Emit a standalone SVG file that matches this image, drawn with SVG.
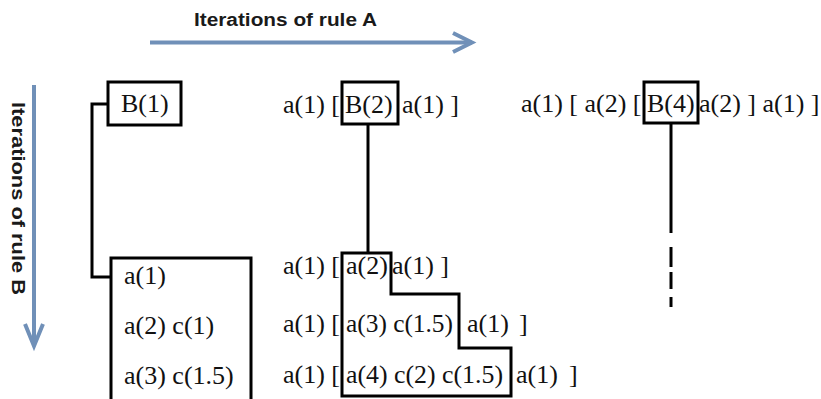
<svg xmlns="http://www.w3.org/2000/svg" width="821" height="399" viewBox="0 0 821 399">
<style>
.t{font-family:"Liberation Serif","Times New Roman",serif;font-size:26px;fill:#111}
.lbl{font-family:"Liberation Sans",Arial,sans-serif;font-size:18px;font-weight:bold;fill:#1a1a1a}
.box{fill:none;stroke:#000;stroke-width:3}
.ln{fill:none;stroke:#000;stroke-width:3}
.ar{fill:none;stroke:#7090b8;stroke-width:4}
</style>
<rect width="821" height="399" fill="#fff"/>
<g id="axis-a">
<line class="ar" x1="150" y1="42.5" x2="472" y2="42.5"/>
<polyline class="ar" points="453,33 472,42.5 453,52"/>
<text class="lbl" x="194" y="26" textLength="183" lengthAdjust="spacingAndGlyphs">Iterations of rule A</text>
</g>
<g id="axis-b">
<line class="ar" x1="34" y1="85" x2="34" y2="346"/>
<polyline class="ar" points="25,324 34,346 43,324"/>
<text class="lbl" transform="translate(12,102) rotate(90)" textLength="193" lengthAdjust="spacingAndGlyphs">Iterations of rule B</text>
</g>
<g id="connectors">
<polyline class="ln" points="108,104 92,104 92,277 111,277"/>
<line class="ln" x1="368" y1="124" x2="368" y2="253"/>
<line class="ln" x1="671" y1="123" x2="671" y2="233"/>
<line class="ln" x1="671" y1="247" x2="671" y2="267" stroke-width="2"/>
<line class="ln" x1="671" y1="272" x2="671" y2="289" stroke-width="2"/>
<line class="ln" x1="671" y1="297" x2="671" y2="307" stroke-width="2"/>
</g>
<g id="b1">
<rect class="box" x="108" y="82" width="73" height="43"/>
<text class="t" x="121" y="112">B(1)</text>
</g>
<g id="col1">
<rect class="box" x="111" y="258" width="140" height="160"/>
<text class="t" x="124" y="284">a(1)</text>
<text class="t" x="124" y="334">a(2) c(1)</text>
<text class="t" x="124" y="384">a(3) c(1.5)</text>
</g>
<g id="b2">
<rect class="box" x="342" y="82" width="56" height="42"/>
<text class="t" x="283" y="113">a(1) [</text>
<text class="t" x="345" y="113">B(2)</text>
<text class="t" x="402" y="113">a(1) ]</text>
</g>
<g id="b4">
<rect class="box" x="644" y="82" width="54" height="41"/>
<text class="t" x="521" y="112">a(1) [ a(2) [</text>
<text class="t" x="647" y="112">B(4)</text>
<text class="t" x="699" y="112">a(2) ] a(1) ]</text>
</g>
<g id="col2">
<polygon class="box" points="342,253 391,253 391,294 459,294 459,348 511,348 511,396 342,396"/>
<text class="t" x="283" y="274">a(1) [</text>
<text class="t" x="346" y="274">a(2)</text>
<text class="t" x="392" y="274">a(1) ]</text>
<text class="t" x="283" y="332">a(1) [</text>
<text class="t" x="346" y="332" textLength="107" lengthAdjust="spacingAndGlyphs">a(3) c(1.5)</text>
<text class="t" x="467" y="332">a(1)</text>
<text class="t" x="519" y="332">]</text>
<text class="t" x="283" y="383">a(1) [</text>
<text class="t" x="346" y="383" textLength="157" lengthAdjust="spacingAndGlyphs">a(4) c(2) c(1.5)</text>
<text class="t" x="516" y="383">a(1)</text>
<text class="t" x="569" y="383">]</text>
</g>
</svg>
